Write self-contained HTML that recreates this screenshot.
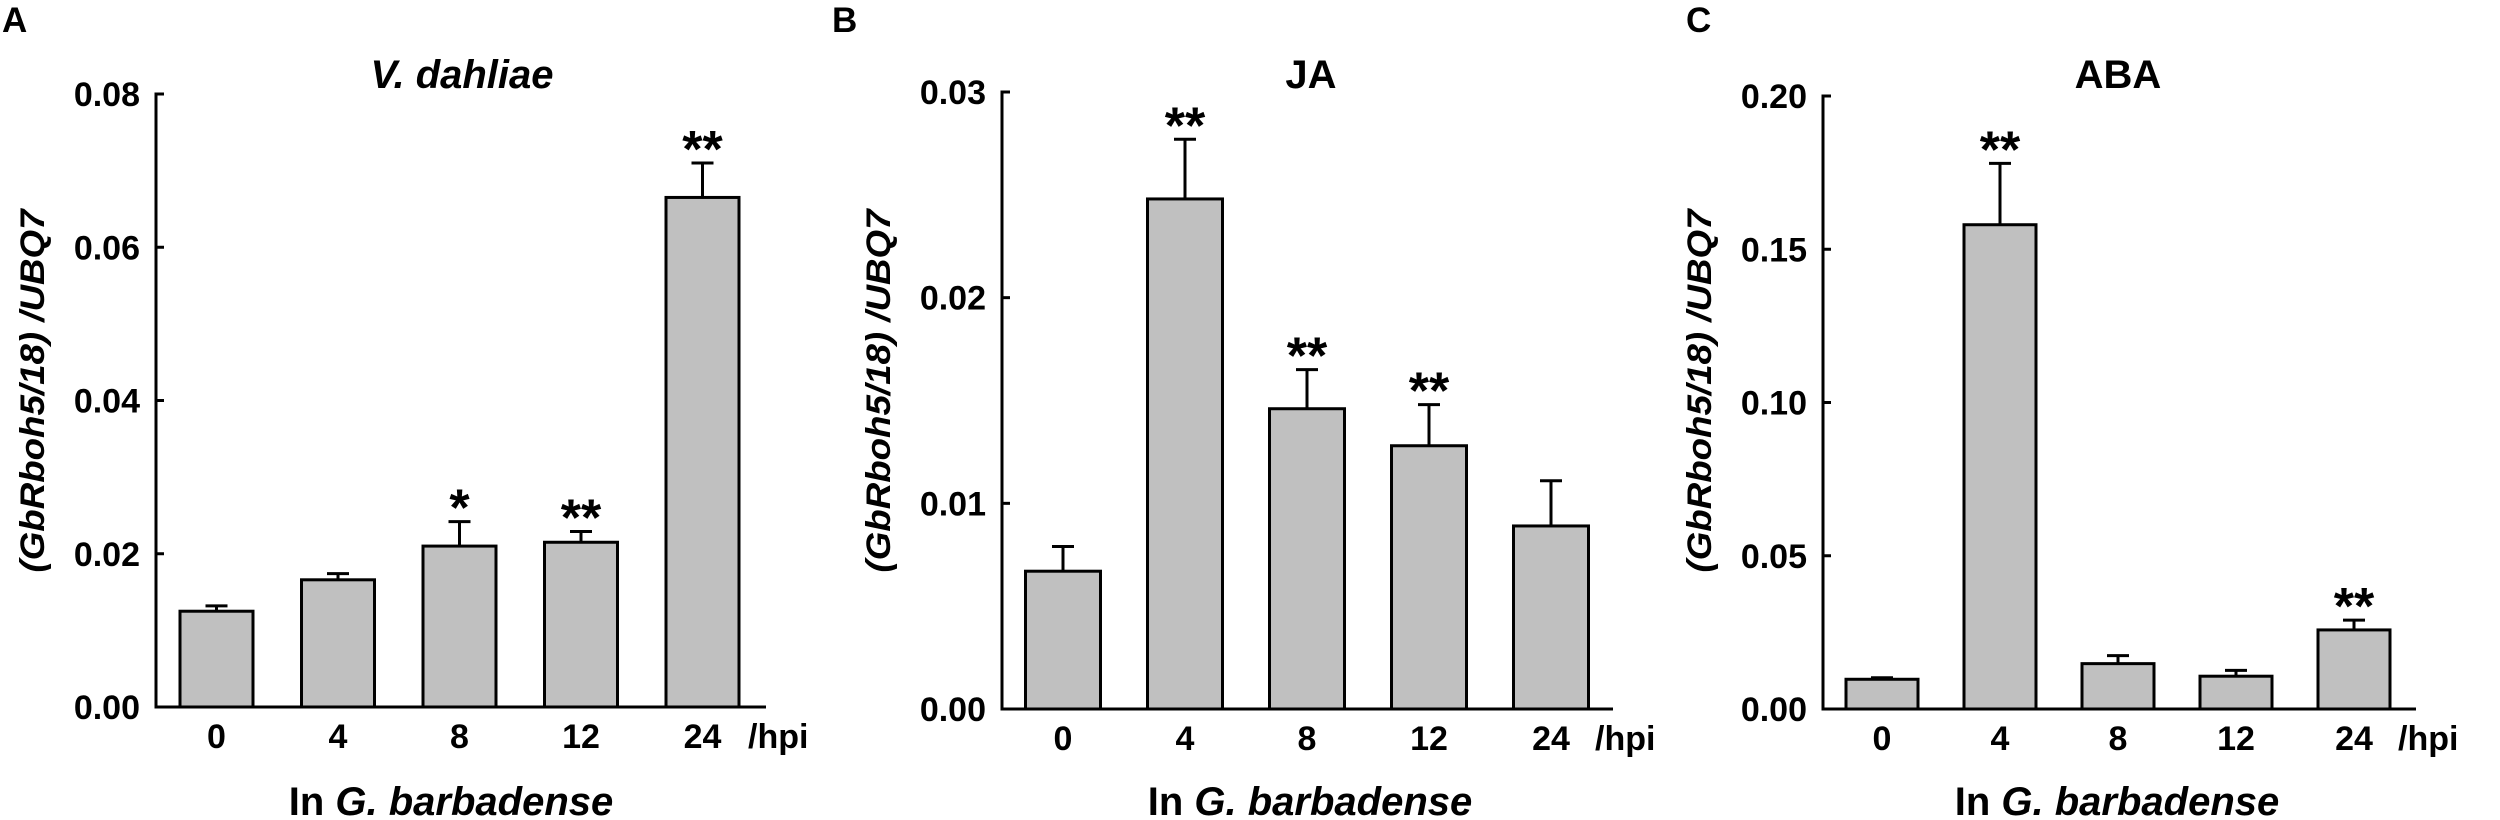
<!DOCTYPE html>
<html><head><meta charset="utf-8"><style>
html,body{margin:0;padding:0;background:#fff;}
svg{display:block;font-family:"Liberation Sans",sans-serif;}
</style></head><body>
<svg id="chart" width="2500" height="820" viewBox="0 0 2500 820" xmlns="http://www.w3.org/2000/svg"></svg>
<script>
const categories = ["0","4","8","12","24"];
const valuesA = [0.0125,0.0166,0.0210,0.0215,0.0665];
const errorsA = [0.0007,0.0008,0.0032,0.0014,0.0045];
const starsA = ["","","*","**","**"];
const ticksA = [0,0.02,0.04,0.06,0.08];
const tickLabelsA = ["0.00","0.02","0.04","0.06","0.08"];
const valuesB = [0.0067,0.0248,0.0146,0.0128,0.0089];
const errorsB = [0.0012,0.0029,0.0019,0.0020,0.0022];
const starsB = ["","**","**","**",""];
const ticksB = [0,0.01,0.02,0.03];
const tickLabelsB = ["0.00","0.01","0.02","0.03"];
const valuesC = [0.0097,0.158,0.0148,0.0107,0.0258];
const errorsC = [0.0005,0.020,0.0026,0.0019,0.0032];
const starsC = ["","**","","","**"];
const ticksC = [0,0.05,0.10,0.15,0.20];
const tickLabelsC = ["0.00","0.05","0.10","0.15","0.20"];

const NS="http://www.w3.org/2000/svg";
const svg=document.getElementById('chart');
function mk(tag,attrs,parent,text){const e=document.createElementNS(NS,tag);for(const k in attrs)e.setAttribute(k,attrs[k]);if(text!==undefined)e.textContent=text;(parent||svg).appendChild(e);return e;}

function panel(p){
  const g=mk('g',{});
  
  
  const yMax=p.ticks[p.ticks.length-1];
  const y=v=>p.base-(v/yMax)*(p.base-p.top);
  const x=i=>p.x0+p.step*i;
  const L=mk('text',{x:p.letterX,y:32,'font-size':35,'font-weight':'bold'},g,p.id);
  
  
  const T=mk('text',{x:p.titleX,y:88,'font-size':40,'font-weight':'bold','font-style':p.titleItalic?'italic':'normal','text-anchor':'middle'},g,p.title);
  
  
  const cy=391;
  const yt=mk('text',{x:0,y:0,'font-size':34,'font-weight':'bold','font-style':'italic','text-anchor':'middle',transform:`translate(${p.axisX-112},${cy}) rotate(-90)`,textLength:363,lengthAdjust:'spacingAndGlyphs'},g,'(GbRboh5/18) /UBQ7');
  
  
  for(let i=0;i<categories.length;i++){
    const v=p.values[i],e=p.errors[i],cx=x(i);
    const ey=y(v+e);
    const el=mk('line',{x1:cx,x2:cx,y1:y(v),y2:ey,stroke:'#000','stroke-width':3},g);
    
    
    const cap=mk('line',{x1:cx-11,x2:cx+11,y1:ey,y2:ey,stroke:'#000','stroke-width':3},g);
    
    
    const r=mk('rect',{x:cx-p.bw/2,y:y(v),width:p.bw,height:p.base-y(v),fill:'#c0c0c0',stroke:'#000','stroke-width':3},g);
    
    
    if(p.stars[i]){
      const s=mk('text',{x:cx,y:ey+4,'font-size':52,'font-weight':'bold','text-anchor':'middle'},g,p.stars[i]);
      
      
    }
    const xl=mk('text',{x:cx,y:p.base+41,'font-size':34,'font-weight':'bold','text-anchor':'middle'},g,categories[i]);
    
    
  }
  const ya=mk('line',{x1:p.axisX,x2:p.axisX,y1:p.top-1.5,y2:p.base+1.5,stroke:'#000','stroke-width':3},g);
  
  
  const xa=mk('line',{x1:p.axisX-1.5,x2:p.axisEnd,y1:p.base,y2:p.base,stroke:'#000','stroke-width':3},g);
  
  
  for(let k=0;k<p.ticks.length;k++){
    const ty=y(p.ticks[k]);
    const tk=mk('line',{x1:p.axisX,x2:p.axisX+8,y1:ty,y2:ty,stroke:'#000','stroke-width':3},g);
    
    
    const tl=mk('text',{x:p.axisX-16,y:ty+12,'font-size':34,'font-weight':'bold','text-anchor':'end'},g,p.tickLabels[k]);
    
    
  }
  const hp=mk('text',{x:p.axisEnd-18,y:p.base+41,'font-size':34,'font-weight':'bold'},g,'/hpi');
  
  
  const xt=mk('text',{x:p.xTitleX,y:815,'font-size':40,'font-weight':'bold','text-anchor':'middle'},g);
  
  
  mk('tspan',{},xt,'In ');
  mk('tspan',{'font-style':'italic'},xt,'G. barbadense');
}
panel({id:'A',title:'V. dahliae',titleItalic:true,titleX:462,xTitleX:451,letterX:2,axisX:156,axisEnd:766,top:94,base:707,x0:216.5,step:121.5,bw:73,values:valuesA,errors:errorsA,stars:starsA,ticks:ticksA,tickLabels:tickLabelsA});
panel({id:'B',title:'JA',titleItalic:false,titleX:1311,xTitleX:1310,letterX:832,axisX:1002,axisEnd:1613,top:92,base:709,x0:1063,step:122,bw:75,values:valuesB,errors:errorsB,stars:starsB,ticks:ticksB,tickLabels:tickLabelsB});
panel({id:'C',title:'ABA',titleItalic:false,titleX:2118,xTitleX:2117,letterX:1686,axisX:1823,axisEnd:2416,top:96,base:709,x0:1882,step:118,bw:72,values:valuesC,errors:errorsC,stars:starsC,ticks:ticksC,tickLabels:tickLabelsC});
</script>
</body></html>
